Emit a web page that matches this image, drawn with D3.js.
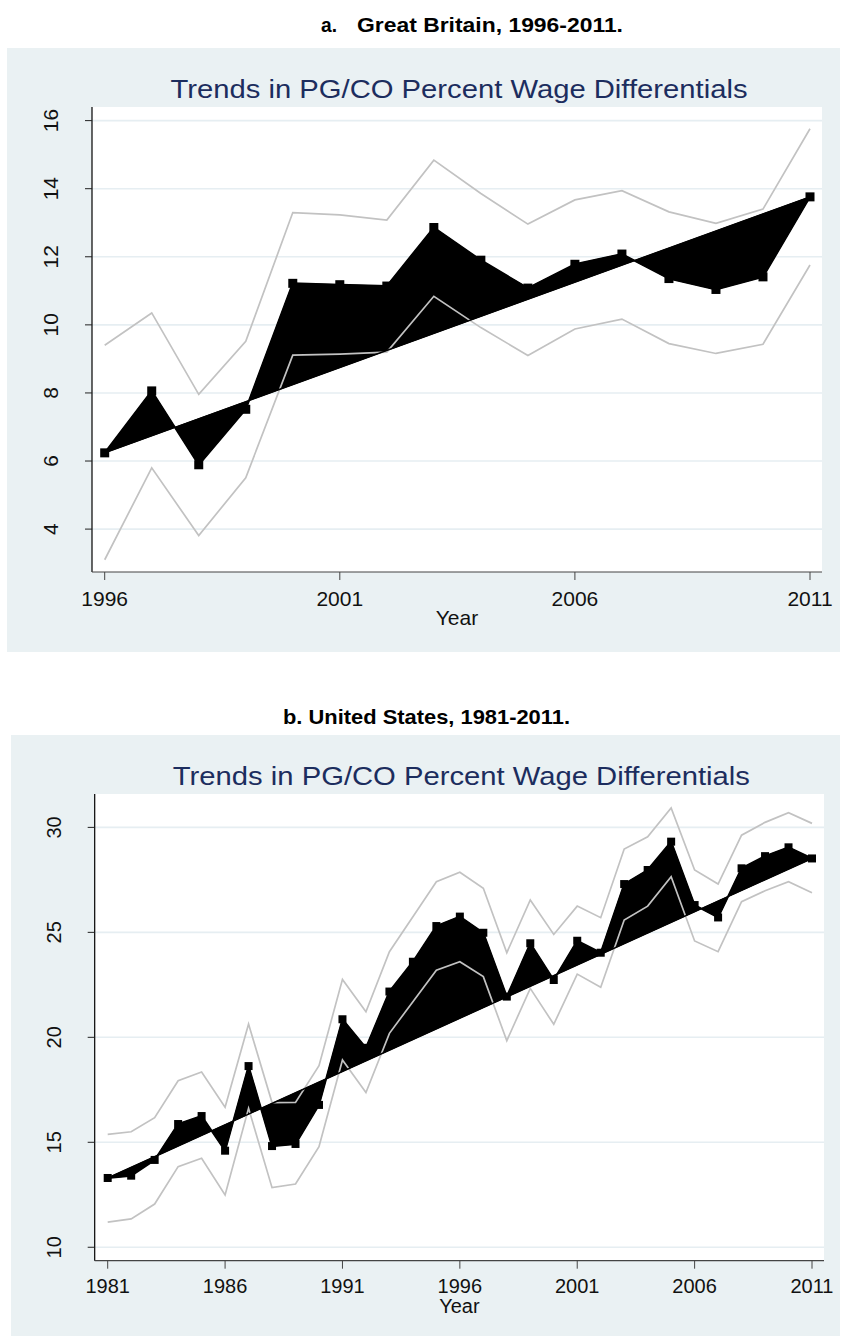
<!DOCTYPE html>
<html>
<head>
<meta charset="utf-8">
<script src="https://cdn.jsdelivr.net/npm/d3@7"></script>
<style>
  body { margin: 0; background: #ffffff; }
  svg { display: block; }
</style>
</head>
<body>
<script>
// panel a: Great Britain
var yearsA = [1996, 1997, 1998, 1999, 2000, 2001, 2002, 2003, 2004, 2005, 2006, 2007, 2008, 2009, 2010, 2011];
var estA = [6.24, 8.06, 5.89, 7.52, 11.22, 11.18, 11.14, 12.86, 11.9, 11.08, 11.78, 12.08, 11.36, 11.04, 11.41, 13.76];
var upperA = [9.4, 10.35, 7.96, 9.52, 13.3, 13.23, 13.08, 14.84, 13.86, 12.96, 13.67, 13.94, 13.32, 12.98, 13.4, 15.76];
var lowerA = [3.1, 5.8, 3.81, 5.51, 9.11, 9.14, 9.2, 10.84, 9.92, 9.1, 9.88, 10.17, 9.45, 9.16, 9.43, 11.76];
var trendYearsA = [1996, 2011];
var trendA = [6.24, 13.76];
var xTicksA = [1996, 2001, 2006, 2011];
var yTicksA = [4, 6, 8, 10, 12, 14, 16];

// panel b: United States
var yearsB = [1981, 1982, 1983, 1984, 1985, 1986, 1987, 1988, 1989, 1990, 1991, 1992, 1993, 1994, 1995, 1996,
    1997, 1998, 1999, 2000, 2001, 2002, 2003, 2004, 2005, 2006, 2007, 2008, 2009, 2010, 2011];
var estB = [13.3, 13.41, 14.16, 15.87, 16.25, 14.6, 18.63, 14.82, 14.92, 16.78, 20.86, 19.5, 22.18, 23.6, 25.3, 25.75,
    24.98, 21.94, 24.48, 22.73, 24.6, 24.03, 27.3, 27.97, 29.32, 26.3, 25.71, 28.05, 28.63, 29.05, 28.52];
var upperB = [15.38, 15.5, 16.17, 17.93, 18.35, 16.67, 20.63, 16.89, 16.9, 18.65, 22.76, 21.22, 24.08, 25.74, 27.41, 27.86,
    27.1, 24.03, 26.54, 24.9, 26.25, 25.7, 28.97, 29.55, 30.93, 27.97, 27.3, 29.63, 30.24, 30.7, 30.19];
var lowerB = [11.2, 11.35, 12.06, 13.84, 14.24, 12.49, 16.62, 12.84, 13.01, 14.79, 18.92, 17.37, 20.19, 21.7, 23.2, 23.6,
    22.89, 19.84, 22.33, 20.62, 23.01, 22.38, 25.59, 26.25, 27.65, 24.59, 24.08, 26.46, 26.98, 27.41, 26.89];
var trendYearsB = [1981, 2011];
var trendB = [13.3, 28.52];
var xTicksB = [1981, 1986, 1991, 1996, 2001, 2006, 2011];
var yTicksB = [10, 15, 20, 25, 30];

var chartTitle = "Trends in PG/CO Percent Wage Differentials";

var svg = d3.select("body").append("svg")
    .attr("width", 845)
    .attr("height", 1339);

var narrow = "'Liberation Sans Narrow', 'Arial Narrow', 'Liberation Sans', sans-serif";
var sans = "'Liberation Sans', Arial, Helvetica, sans-serif";

function drawChart(o) {
    var g = svg.append("g");

    // caption above the panel
    if (o.capLabel) {
        g.append("text")
            .attr("x", o.capX)
            .attr("y", o.capY)
            .attr("font-family", narrow)
            .attr("font-weight", "bold")
            .attr("font-size", 21)
            .attr("fill", "#000")
            .attr("textLength", 16)
            .attr("lengthAdjust", "spacingAndGlyphs")
            .text(o.capLabel);
    }
    g.append("text")
        .attr("x", o.capX2)
        .attr("y", o.capY)
        .attr("font-family", narrow)
        .attr("font-weight", "bold")
        .attr("font-size", 21)
        .attr("fill", "#000")
        .attr("textLength", o.capLen)
        .attr("lengthAdjust", "spacingAndGlyphs")
        .text(o.caption);

    // graph region
    g.append("rect")
        .attr("x", o.panel[0])
        .attr("y", o.panel[1])
        .attr("width", o.panel[2] - o.panel[0])
        .attr("height", o.panel[3] - o.panel[1])
        .attr("fill", "#eaf1f3");

    var left = o.plot[0], top = o.plot[1], right = o.plot[2], bottom = o.plot[3];
    g.append("rect")
        .attr("x", left)
        .attr("y", top)
        .attr("width", right - left)
        .attr("height", bottom - top)
        .attr("fill", "#ffffff");

    var x = d3.scaleLinear().domain([o.years[0], o.years[o.years.length - 1]]).range(o.xRange);
    var y = d3.scaleLinear().domain(o.yDomain).range([bottom, top]);

    // grid
    g.append("g").selectAll("line")
        .data(o.yTicks)
        .enter()
        .append("line")
        .attr("x1", left)
        .attr("x2", right)
        .attr("y1", function(d) { return y(d); })
        .attr("y2", function(d) { return y(d); })
        .attr("stroke", "#e6eef2")
        .attr("stroke-width", 1.6);

    // black area between estimate and trend
    var pts = o.years.map(function(yr, i) { return [x(yr), y(o.est[i])]; });
    pts.push([x(o.trendYears[1]), y(o.trend[1])]);
    pts.push([x(o.trendYears[0]), y(o.trend[0])]);
    g.append("path")
        .attr("d", d3.line()(pts) + "Z")
        .attr("fill", "#000")
        .attr("stroke", "#000")
        .attr("stroke-width", 1)
        .attr("stroke-linejoin", "round");

    var line = d3.line()
        .x(function(d) { return x(d[0]); })
        .y(function(d) { return y(d[1]); });

    // confidence bounds
    [o.upper, o.lower].forEach(function(arr) {
        g.append("path")
            .attr("d", line(o.years.map(function(yr, i) { return [yr, arr[i]]; })))
            .attr("fill", "none")
            .attr("stroke", "#c2c2c2")
            .attr("stroke-width", 1.7);
    });

    // trend
    g.append("path")
        .attr("d", line(o.trendYears.map(function(yr, i) { return [yr, o.trend[i]]; })))
        .attr("fill", "none")
        .attr("stroke", "#000")
        .attr("stroke-width", 1.5);

    // estimate line + square markers
    g.append("path")
        .attr("d", line(o.years.map(function(yr, i) { return [yr, o.est[i]]; })))
        .attr("fill", "none")
        .attr("stroke", "#000")
        .attr("stroke-width", 2);
    g.append("g").selectAll("rect")
        .data(o.years)
        .enter()
        .append("rect")
        .attr("x", function(d) { return x(d) - o.msize / 2; })
        .attr("y", function(d, i) { return y(o.est[i]) - o.msize / 2; })
        .attr("width", o.msize)
        .attr("height", o.msize)
        .attr("fill", "#000");

    // axes
    g.append("line")
        .attr("x1", left).attr("x2", left)
        .attr("y1", top).attr("y2", bottom)
        .attr("stroke", "#000")
        .attr("stroke-width", 1.2);
    g.append("line")
        .attr("x1", left).attr("x2", right)
        .attr("y1", bottom).attr("y2", bottom)
        .attr("stroke", "#444")
        .attr("stroke-width", 1.2);

    g.append("g").selectAll("line")
        .data(o.yTicks)
        .enter()
        .append("line")
        .attr("x1", left - 7)
        .attr("x2", left)
        .attr("y1", function(d) { return y(d); })
        .attr("y2", function(d) { return y(d); })
        .attr("stroke", "#222")
        .attr("stroke-width", 1);
    g.append("g").selectAll("text")
        .data(o.yTicks)
        .enter()
        .append("text")
        .attr("transform", function(d) { return "translate(" + o.yLabX + "," + y(d) + ") rotate(-90)"; })
        .attr("text-anchor", "middle")
        .attr("font-family", sans)
        .attr("font-size", o.fs)
        .attr("fill", "#111")
        .text(function(d) { return d; });

    g.append("g").selectAll("line")
        .data(o.xTicks)
        .enter()
        .append("line")
        .attr("x1", function(d) { return x(d); })
        .attr("x2", function(d) { return x(d); })
        .attr("y1", bottom)
        .attr("y2", bottom + 8)
        .attr("stroke", "#444")
        .attr("stroke-width", 1);
    g.append("g").selectAll("text")
        .data(o.xTicks)
        .enter()
        .append("text")
        .attr("x", function(d) { return x(d); })
        .attr("y", o.xLabY)
        .attr("text-anchor", "middle")
        .attr("font-family", sans)
        .attr("font-size", o.fs)
        .attr("fill", "#111")
        .text(function(d) { return d; });

    g.append("text")
        .attr("x", (left + right) / 2)
        .attr("y", o.yearY)
        .attr("text-anchor", "middle")
        .attr("font-family", sans)
        .attr("font-size", o.fs)
        .attr("fill", "#111")
        .text("Year");

    g.append("text")
        .attr("x", (left + right) / 2 + 2)
        .attr("y", o.titleY)
        .attr("text-anchor", "middle")
        .attr("font-family", sans)
        .attr("font-size", 26)
        .attr("fill", "#1c2d5e")
        .attr("textLength", 577)
        .attr("lengthAdjust", "spacingAndGlyphs")
        .text(chartTitle);
}

drawChart({
    capLabel: "a.", capX: 321, capX2: 357, capY: 32, capLen: 266,
    caption: "Great Britain, 1996-2011.",
    panel: [7, 48, 840, 652],
    plot: [92, 107, 822, 572],
    xRange: [104.7, 810],
    yDomain: [2.74, 16.4],
    years: yearsA, est: estA, upper: upperA, lower: lowerA,
    trendYears: trendYearsA, trend: trendA,
    xTicks: xTicksA, yTicks: yTicksA,
    msize: 9, fs: 21,
    yLabX: 58, xLabY: 606, yearY: 625, titleY: 98
});

drawChart({
    capLabel: null, capX2: 283, capY: 724, capLen: 287,
    caption: "b. United States, 1981-2011.",
    panel: [11, 735, 840, 1336],
    plot: [94.7, 794, 824, 1260.7],
    xRange: [107.7, 812],
    yDomain: [9.36, 31.59],
    years: yearsB, est: estB, upper: upperB, lower: lowerB,
    trendYears: trendYearsB, trend: trendB,
    xTicks: xTicksB, yTicks: yTicksB,
    msize: 8, fs: 20,
    yLabX: 61, xLabY: 1293, yearY: 1313, titleY: 785
});
</script>
</body>
</html>
